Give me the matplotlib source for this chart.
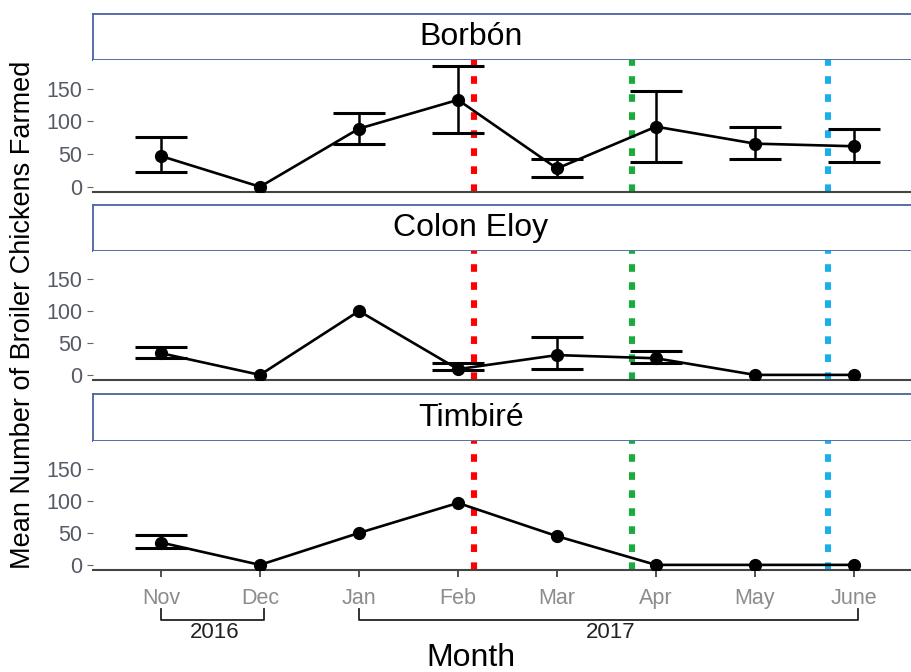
import numpy as np
import matplotlib
matplotlib.use("Agg")
import matplotlib.pyplot as plt
from matplotlib.transforms import blended_transform_factory

plt.rcParams['font.family'] = ['Liberation Sans', 'DejaVu Sans']

months = ['Nov', 'Dec', 'Jan', 'Feb', 'Mar', 'Apr', 'May', 'June']
years = [('2016', 0, 1), ('2017', 2, 7)]

sites = ['Borbón', 'Colon Eloy', 'Timbiré']

# mean number of broilers, with lower / upper error bar ends (nan = no bar)
borbon_mean = [47, 0, 89, 133, 28, 92, 66, 62]
borbon_lo = [23, np.nan, 66, 83, 15, 38, 43, 38]
borbon_hi = [76, np.nan, 113, 185, 42, 147, 92, 88]

colon_mean = [34, 0, 100, 9, 31, 26, 0, 0]
colon_lo = [26, np.nan, np.nan, 7, 10, 19, np.nan, np.nan]
colon_hi = [43, np.nan, np.nan, 18, 59, 37, np.nan, np.nan]

timbire_mean = [35, 0, 50, 97, 45, 0, 0, 0]
timbire_lo = [27, np.nan, np.nan, np.nan, np.nan, np.nan, np.nan, np.nan]
timbire_hi = [47, np.nan, np.nan, np.nan, np.nan, np.nan, np.nan, np.nan]

# vertical event lines (month index position)
event_x = [3.16, 4.76, 6.74]
event_col = ['#ff0000', '#1aab3c', '#1aaeea']

means = [borbon_mean, colon_mean, timbire_mean]
los = [borbon_lo, colon_lo, timbire_lo]
his = [borbon_hi, colon_hi, timbire_hi]

W, H = 911, 672
fig = plt.figure(figsize=(W / 100, H / 100), dpi=100)

def px_rect(left, top, right, bottom):
    return [left / W, 1 - bottom / H, (right - left) / W, (bottom - top) / H]

panel_px = [(14, 60, 192), (205, 251, 380), (394, 441, 570)]
x = np.arange(len(months))
left_px, right_px = 93, 916
x0 = -(161 - left_px) / 99.0
x1 = (right_px - 161) / 99.0
strip_col = '#4a62a0'

for i, (st, pt, pb) in enumerate(panel_px):
    # strip
    sax = fig.add_axes(px_rect(left_px, st, right_px, pt))
    sax.set_xticks([])
    sax.set_yticks([])
    for s in sax.spines.values():
        s.set_color(strip_col)
        s.set_linewidth(1.3)
    sax.text((471 - left_px) / (right_px - left_px), 0.5, sites[i], ha='center', va='center',
             fontsize=23, color='black', transform=sax.transAxes)

    ax = fig.add_axes(px_rect(left_px, pt, right_px, pb))
    ax.set_xlim(x0, x1)
    ax.set_ylim(-8, 194)
    for s in ['top', 'right', 'left']:
        ax.spines[s].set_visible(False)
    ax.spines['bottom'].set_color('#444444')
    ax.spines['bottom'].set_linewidth(1.5)

    for ex, ec in zip(event_x, event_col):
        ax.axvline(ex, color=ec, lw=4.4, linestyle=(0, (1.25, 1.7)), zorder=1)

    m = np.array(means[i], dtype=float)
    lo = np.array(los[i], dtype=float)
    hi = np.array(his[i], dtype=float)
    ax.plot(x, m, color='black', lw=1.9, marker='o', markersize=8.5, zorder=3)
    ok = ~np.isnan(lo)
    ax.errorbar(x[ok], m[ok], yerr=[m[ok] - lo[ok], hi[ok] - m[ok]], fmt='none',
                ecolor='black', elinewidth=1.8, capsize=19, capthick=2.2, zorder=3)

    ax.set_yticks([0, 50, 100, 150])
    ax.tick_params(axis='y', labelsize=15.5, labelcolor='#555a66', color='#666666', length=4)
    ax.set_xticks(x)
    if i < 2:
        ax.tick_params(axis='x', length=0, labelbottom=False)
    else:
        ax.set_xticklabels(months)
        ax.tick_params(axis='x', labelsize=15.5, labelcolor='#8c8c8c', color='#333333',
                       length=5, width=1.2, pad=8)
        tr = blended_transform_factory(ax.transData, fig.transFigure)
        ytop = 1 - 609 / H
        ybot = 1 - 620 / H
        for lab, a, b in years:
            ax.plot([a, a, b + 0.04, b + 0.04], [ytop, ybot, ybot, ytop], color='#222222',
                    lw=1.3, transform=tr, clip_on=False)
            ax.text((a + b) / 2 + 0.04, 1 - 633 / H, lab, ha='center', va='center',
                    fontsize=16, color='#222222', transform=tr)

fig.text(471 / W, 1 - 658 / H, 'Month', ha='center', va='center', fontsize=23, color='black')
fig.text(23 / W, 1 - 315 / H, 'Mean Number of Broiler Chickens Farmed', rotation=90,
         ha='center', va='center', fontsize=19.5, color='black')

fig.savefig('out.png', dpi=100)
